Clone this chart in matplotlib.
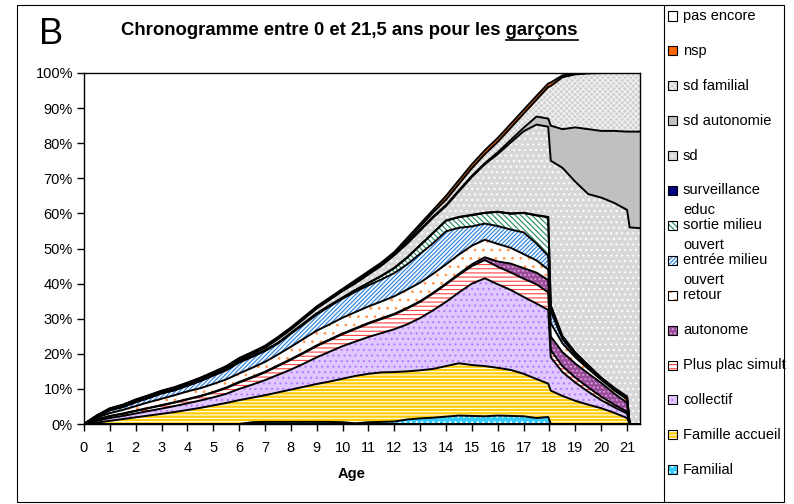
import numpy as np
import matplotlib.pyplot as plt
from matplotlib.patches import Rectangle
from matplotlib.lines import Line2D

plt.rcParams['font.family'] = ['Liberation Sans', 'DejaVu Sans']
plt.rcParams['hatch.linewidth'] = 0.8

# ages (years) and share of boys in each situation (%)
ages = [0, 0.5, 1, 1.5, 2, 2.5, 3, 3.5, 4, 4.5, 5, 5.5, 6, 6.5, 7, 7.5, 8, 8.5, 9, 9.5,
        10, 10.5, 11, 11.5, 12, 12.5, 13, 13.5, 14, 14.5, 15, 15.5, 16, 16.5, 17, 17.5,
        17.95, 18.05, 18.5, 19, 19.5, 20, 20.5, 21, 21.1, 21.5]

familial = [0]*13 + [0.5, 0.6, 0.6, 0.6, 0.6, 0.6, 0.6, 0.5, 0.2, 0.5, 0.6, 0.7, 1.3, 1.6,
                     1.8, 2.1, 2.4, 2.3, 2.2, 2.4, 2.3, 2.2, 1.7, 2.0] + [0]*9
famille_accueil = [0, 0.4, 0.9, 1.4, 1.9, 2.4, 2.9, 3.4, 4.0, 4.6, 5.3, 6.0, 6.8, 7.0, 7.6, 8.4,
                   9.2, 10.0, 10.8, 11.5, 12.4, 13.5, 13.8, 14.1, 14.1, 13.7, 13.7, 13.9, 14.4,
                   14.9, 14.5, 14.3, 13.6, 13.1, 12.1, 11.1, 9.5, 9.5, 8.0, 6.6, 5.5, 4.5, 3.2,
                   1.7, 0, 0]
collectif = [0, 0.5, 0.8, 0.9, 1.1, 1.3, 1.5, 1.7, 1.9, 2.1, 2.3, 2.6, 3.2, 3.7, 4.3, 5.0, 5.7,
             6.6, 7.6, 8.5, 9.3, 9.8, 10.5, 11.2, 12.2, 13.4, 14.9, 16.7, 18.3, 20.2, 23.2, 25.0,
             23.8, 22.8, 21.9, 21.5, 21.0, 9.5, 6.8, 5.2, 3.7, 2.3, 1.6, 1.3, 0, 0]
plus_plac = [0, 0.3, 0.5, 0.6, 0.7, 0.8, 0.9, 1.0, 1.1, 1.2, 1.4, 1.6, 1.8, 2.0, 2.2, 2.5, 2.8,
             3.0, 3.2, 3.3, 3.4, 3.6, 3.8, 4.0, 4.2, 4.5, 4.6, 4.8, 5.0, 5.0, 5.0, 5.2, 5.0, 5.0,
             5.2, 5.5, 5.0, 2.0, 1.7, 1.4, 1.2, 1.0, 0.7, 0.5, 0, 0]
autonome = [0] + [0.1]*10 + [0.2]*18 + [0.3, 0.5, 0.8, 1.5, 2.5, 3.0, 3.3, 3.5, 3.9, 4.0, 4.0,
                                        4.0, 3.9, 3.2, 2.5, 0, 0]
retour = [0, 0.5, 0.8, 1.0, 1.3, 1.6, 1.8, 2.0, 2.2, 2.2, 2.3, 2.3, 2.4, 2.6, 2.8, 3.1, 3.5, 3.9,
          4.2, 4.3, 4.5, 4.6, 4.7, 4.8, 5.0, 5.2, 5.3, 5.4, 5.5, 5.5, 5.3, 5.0, 5.0, 4.5, 4.0,
          3.5, 3.0, 3.8, 2.5, 1.8, 1.3, 0.9, 0.9, 1.0, 0, 0]
entree_mo = [0, 0.2, 0.8, 0.8, 1.1, 1.2, 1.5, 1.4, 1.6, 2.0, 2.4, 2.6, 3.1, 3.1, 3.1, 3.1, 3.7,
             4.1, 4.6, 5.1, 5.4, 5.8, 6.0, 6.3, 6.6, 7.2, 8.2, 8.7, 9.4, 7.6, 5.5, 4.6, 5.1, 5.2,
             6.2, 4.8, 3.9, 3.5, 1.2, 0.7, 0.5, 0.3, 0.4, 0.4, 0, 0]
sortie_mo = [0] + [0.1]*10 + [0.2]*6 + [0.3]*4 + [0.5, 0.7, 1.0, 1.4, 1.9, 2.4, 2.9, 3.0, 3.0,
                                                  3.2, 3.0, 4.0, 4.5, 5.5, 8.0, 11.0, 1.5, 0.8,
                                                  0.6, 0.5, 0.3, 0.3, 0.4, 0, 0]
surveillance = [0]*24 + [0.1]*13 + [0]*9
sd = [0, 0.1, 0.2, 0.3, 0.4, 0.4, 0.4, 0.5, 0.5, 0.6, 0.6, 0.4, 0.5, 0.6, 0.7, 1.1, 1.0, 1.2,
      1.4, 1.6, 1.9, 1.9, 2.4, 2.9, 3.6, 3.9, 4.1, 4.3, 4.1, 7.3, 10.8, 13.8, 16.4, 20.2, 23.2,
      25.8, 25.7, 41.3, 48.0, 48.7, 48.8, 51.3, 52.7, 53.2, 56.0, 55.8]
sd_autonomie = [0] + [0.1]*10 + [0.2]*14 + [0.3]*7 + [0.5, 0.7, 1.0, 2.3, 2.3, 10.0, 11.0, 15.5,
                                                     18.5, 19.0, 20.5, 22.3, 27.3, 27.5]
sd_familial = [0] + [0.1]*10 + [0.2]*10 + [0.3]*4 + [0.6, 0.9, 1.2, 1.5, 1.8, 2.2, 2.6, 3.0, 3.5,
                                                    4.0, 4.8, 9.0, 11.3, 14.8, 15.1, 15.9, 16.5,
                                                    16.5, 16.7, 16.7, 16.7]
nsp = [0] + [0.1]*10 + [0.2]*10 + [0.4]*4 + [0.7]*3 + [1.1]*8 + [1.0, 1.0, 0.5, 0.3, 0.1] + [0]*5
pas_encore = [100, 97.5, 95.5, 94.5, 93.0, 91.8, 90.5, 89.5, 88.2, 86.8, 85.2, 83.5, 81.2, 79.5,
              77.7, 75.2, 72.5, 69.5, 66.5, 64.0, 61.5, 59.0, 56.5, 54.0, 51.0, 47.0, 43.0, 39.0,
              35.0, 30.5, 26.0, 22.0, 18.5, 14.5, 10.5, 6.5, 3.0, 2.7, 0.7, 0.1, 0, 0, 0, 0, 0, 0]

# bottom to top
series = [familial, famille_accueil, collectif, plus_plac, autonome, retour, entree_mo,
          sortie_mo, surveillance, sd, sd_autonomie, sd_familial, nsp, pas_encore]
labels = ['Familial', 'Famille accueil', 'collectif', 'Plus plac simult', 'autonome', 'retour',
          'entrée milieu\nouvert', 'sortie milieu\nouvert', 'surveillance\neduc', 'sd',
          'sd autonomie', 'sd familial', 'nsp', 'pas encore']
# (face colour, hatch colour, hatch)
styles = [('#33CCFF', 'white', '...'),
          ('#FFCC00', 'white', '-----'),
          ('#E0C8FF', '#B57BFF', '...'),
          ('white', '#FF4040', '----'),
          ('#9B4D9B', '#D9A6D9', '....'),
          ('white', '#FF9955', '..'),
          ('#F4F9FF', '#2B7FDB', '/' * 8),
          ('white', '#23875A', '\\' * 6),
          ('#000080', '#000080', None),
          ('#D8D8D8', 'white', '...'),
          ('#C0C0C0', '#C0C0C0', None),
          ('#D0D0D0', '#F2F2F2', 'x' * 6),
          ('#FF6600', '#FF6600', None),
          ('white', 'white', None)]

W, H = 794, 504
fig = plt.figure(figsize=(W / 100, H / 100), dpi=100)


def fx(px):
    return px / W


def fy(py):
    return 1 - py / H


ax = fig.add_axes([fx(84), fy(424), fx(640) - fx(84), fy(73) - fy(424)])

x = np.array(ages)
base = np.zeros(len(ages))
tops = []
for vals, (fc, hc, hatch) in zip(series, styles):
    top = base + np.array(vals)
    ax.fill_between(x, base, top, facecolor=fc, edgecolor=hc, hatch=hatch, linewidth=0)
    tops.append(top)
    base = top

# black border of every band
ax.plot(x, np.zeros(len(x)), color='black', lw=2.2)
for top in tops[:-1]:
    ax.plot(x, top, color='black', lw=1.4)

ax.set_xlim(0, 21.5)
ax.set_ylim(0, 100)
ax.set_xticks(range(22))
ax.set_yticks(range(0, 101, 10))
ax.set_yticklabels(['%d%%' % v for v in range(0, 101, 10)])
ax.tick_params(axis='both', direction='out', length=5, width=1, labelsize=10.5, color='black')
ax.tick_params(axis='y', pad=3)
ax.tick_params(axis='x', pad=7)
for sp in ax.spines.values():
    sp.set_linewidth(1)
    sp.set_color('black')

# outer frame + legend box
fig.add_artist(Rectangle((fx(17), fy(502)), fx(784) - fx(17), fy(5) - fy(502), fill=False,
                         edgecolor='black', lw=0.8, transform=fig.transFigure))
fig.add_artist(Line2D([fx(664), fx(664)], [fy(5), fy(502)], color='black', lw=0.8,
                      transform=fig.transFigure))

# legend, top entry first
for k, i in enumerate(range(len(series) - 1, -1, -1)):
    fc, hc, hatch = styles[i]
    yc = 16 + 34.9 * k
    fig.add_artist(Rectangle((fx(668), fy(yc + 4.5)), fx(9), 9 / H, facecolor=fc, edgecolor=hc,
                             hatch=hatch, lw=0, transform=fig.transFigure))
    fig.add_artist(Rectangle((fx(668), fy(yc + 4.5)), fx(9), 9 / H, fill=False,
                             edgecolor='black', lw=0.8, transform=fig.transFigure))
    for j, line in enumerate(labels[i].split('\n')):
        fig.text(fx(683), fy(yc + 19.5 * j), line, fontsize=10.5, va='center', ha='left')

# titles
fig.text(fx(39), fy(44), 'B', fontsize=26, va='baseline', ha='left')
title_txt = 'Chronogramme entre 0 et 21,5 ans pour les garçons'
renderer = fig.canvas.get_renderer()
title = fig.text(fx(121), fy(35), title_txt, fontsize=13.3, fontweight='bold', va='baseline')
w_full = title.get_window_extent(renderer).width
tmp = fig.text(0, 0, 'garçons', fontsize=13.3, fontweight='bold')
w_part = tmp.get_window_extent(renderer).width
tmp.remove()
x1 = 121 + w_full
fig.add_artist(Line2D([fx(x1 - w_part), fx(x1)], [fy(40), fy(40)], color='black', lw=1.2,
                      transform=fig.transFigure))

fig.text(fx(352), fy(474), 'Age', fontsize=10.5, fontweight='bold', ha='center', va='center')

fig.savefig('out.png', dpi=100)
